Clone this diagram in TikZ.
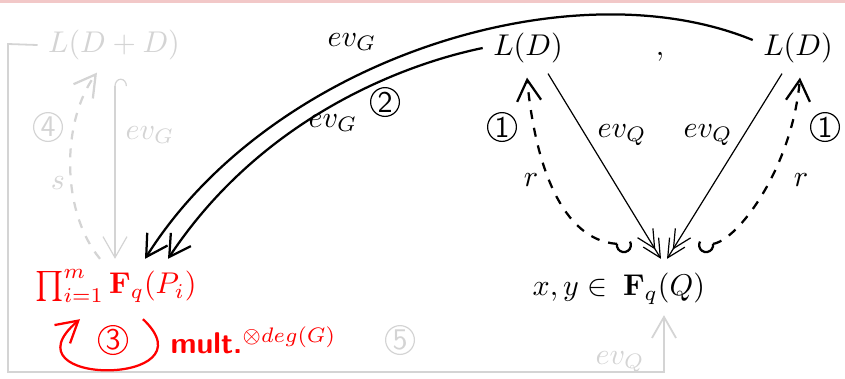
\documentclass[tikz,border=0pt]{standalone}
\usetikzlibrary{arrows.meta,calc}
\definecolor{lg}{RGB}{212,212,212}
\definecolor{pk}{RGB}{242,200,200}
\tikzset{
  bar/.tip={Straight Barb[length=7pt,width=8pt]},
  dbar/.tip={Straight Barb[length=6pt,width=6pt,sep=-3pt]Straight Barb[length=6pt,width=6pt]},
  thk/.style={line width=0.75pt},
  thn/.style={line width=0.4pt},
  circnum/.style={circle,draw,line width=0.4pt,inner sep=0pt,minimum size=9.6pt,font=\sffamily},
  hk/.tip={Hooks[right,length=2.5pt,width=8pt]}
}
\begin{document}
\begin{tikzpicture}[x=0.33333pt,y=-0.33333pt]
\useasboundingbox (0,0) rectangle (845,378);
\fill[pk] (0,0) rectangle (845,2.5);
% nodes
\node[lg] (LDD) at (114,45) {$L(D+D)$};
\node (LD1) at (528,48) {$L(D)$};
\node (LD2) at (798,48) {$L(D)$};
\node[anchor=base] (comma) at ($(LD1.base)+(132,0)$) {$,$};
\node[red] (P) at (116,286) {$\prod_{i=1}^m \mathbf{F}_q(P_i)$};
\node (Q) at (664,289) {$\mathbf{F}_q(Q)$};
\node[anchor=base east,inner xsep=1.5pt] (xy) at (Q.base west) {$x,y\in$};
% ev_G arrows (2)
\draw[thk,-{bar}] ($(LD2.west)+(0,-8)$) .. controls (570,-35) and (270,60) .. ($(P.north)+(29,0)$);
\draw[thk,-{bar}] (LD1.west) .. controls (400,65) and (260,120) .. ($(P.north)+(52,0)$);
\node (evG1) at (352,42) {$ev_G$};
\node (evG2) at (333,123) {$ev_G$};
\node[circnum] (n2) at (385,102) {2};
% ev_Q arrows
\draw[thn,-{dbar}] ($(LD1.south)+(20,0)$) -- ($(Q.north)+(-3,-4)$);
\draw[thn,-{dbar}] ($(LD2.south)+(-16,0)$) -- ($(Q.north)+(3,-4)$);
\node (evQ1) at (622,135) {$ev_Q$};
\node (evQ2) at (708,135) {$ev_Q$};
% r arrows with hooked tails
\coordinate (h1) at ($(Q.north)+(-47,-19)$);
\coordinate (h2) at ($(Q.north)+(49,-19)$);
\draw[thk,dashed,-{bar}] (h1) .. controls (562,240) and (535,165) .. ($(LD1.south)+(-1,4)$);
\draw[thk,dashed,-{bar}] (h2) .. controls (738,240) and (792,168) .. ($(LD2.south)+(2,4)$);
\draw[thk] (h1) arc[start angle=190, end angle=-30, radius=7];
\draw[thk] (h2) arc[start angle=-10, end angle=210, radius=7];
\node (r1) at (531,180) {$r$};
\node (r2) at (801,180) {$r$};
\node[circnum] (n1a) at (502,127) {1};
\node[circnum] (n1b) at (825,127) {1};
% gray part
\draw[lg,thn,{hk}-{bar}] ($(LDD.south)+(1,8)$) -- ($(P.north)+(-1,0)$);
\node[lg] (evG3) at (150,135) {$ev_G$};
\draw[lg,thk,dashed,-{bar}] ($(P.north)+(-16,0)$) .. controls (60,210) and (62,120) .. ($(LDD.south)+(-17,2)$);
\node[lg] (s) at (58,183) {$s$};
\node[circnum,lg] (n4) at (48,127) {4};
\coordinate (c0) at (8,44);
\coordinate (c1) at (8,372);
\draw[lg,line width=0.6pt,-{bar}] (LDD.west) -- (c0) -- (c1) -- (c1 -| Q.south) -- (Q.south);
\node[lg] (evQ3) at (620,362) {$ev_Q$};
\node[circnum,lg] (n5) at (400,340) {5};
% red loop
\draw[red,thk,-{bar}] ($(P.south)+(27,6)$) .. controls (215,387) and (0,387) .. ($(P.south)+(-36,6)$);
\node[circnum,red] (n3) at (113,340) {3};
\node[red,anchor=west] (mult) at (160,340) {\textsf{\textbf{mult.}}$^{\otimes deg(G)}$};
\end{tikzpicture}
\end{document}
